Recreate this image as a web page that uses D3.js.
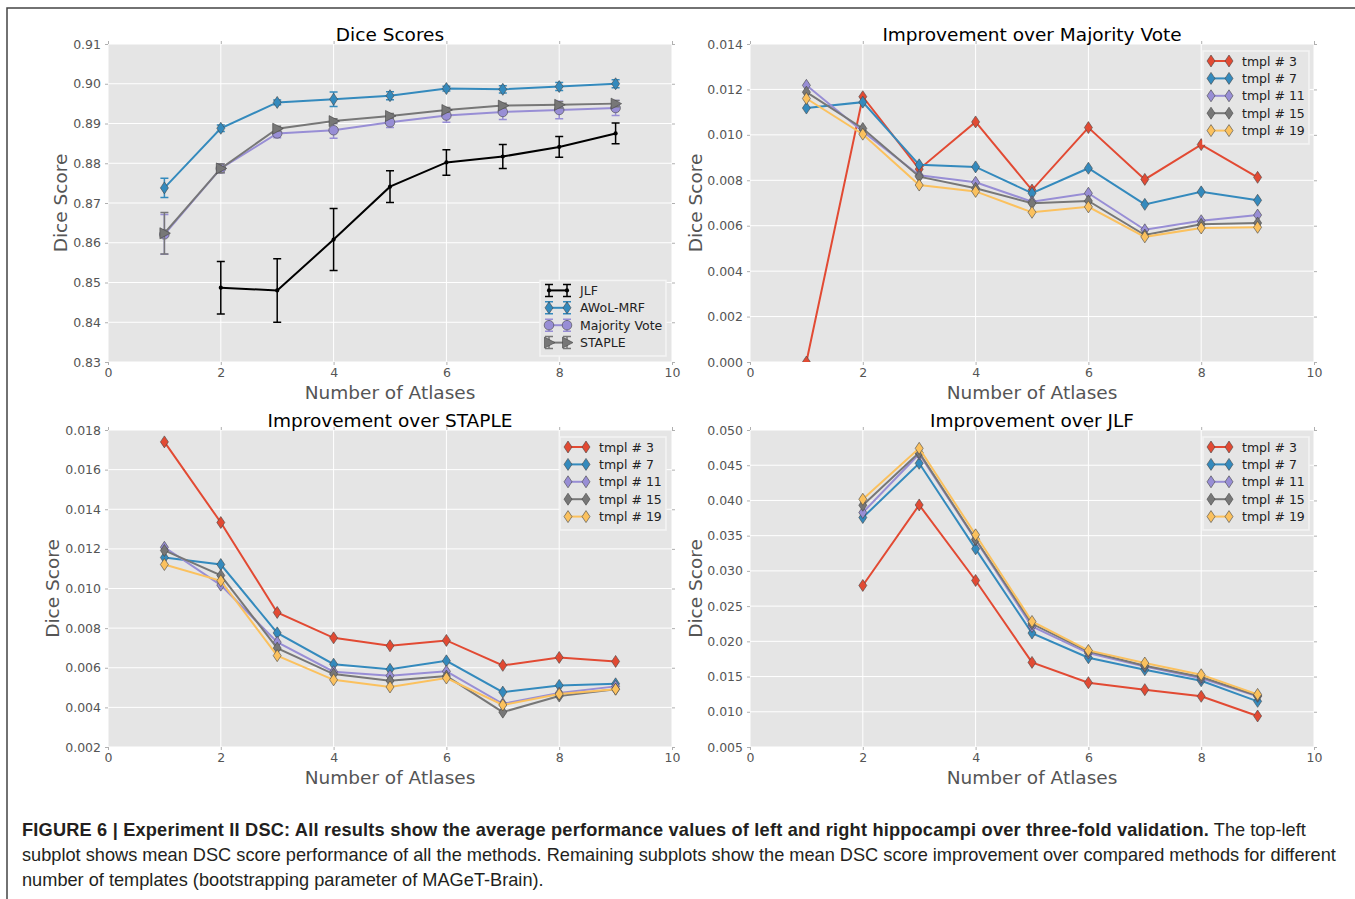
<!DOCTYPE html>
<html lang="en">
<head>
<meta charset="UTF-8">
<title>Experiment II DSC</title>
<script src="https://cdn.jsdelivr.net/npm/d3@7"></script>
<style>
	body { margin: 0; background: #fff; }
	svg text { font-family: 'DejaVu Sans', sans-serif; }
	.caption text { font-family: 'Liberation Sans', Arial, sans-serif; }
</style>
</head>
<body>
<script>
// x values
var atlases = [1, 2, 3, 4, 5, 6, 7, 8, 9];
var jlfAtlases = [2, 3, 4, 5, 6, 7, 8, 9];
var xTicks = [0, 2, 4, 6, 8, 10];

// Dice Scores (mean and error)
var jlfMean = [0.8487, 0.8480, 0.8608, 0.8741, 0.8802, 0.8817, 0.8841, 0.8875];
var jlfErr = [0.0066, 0.0080, 0.0078, 0.0040, 0.0032, 0.0030, 0.0026, 0.0026];
var awolMean = [0.8738, 0.8888, 0.8953, 0.8961, 0.8970, 0.8988, 0.8986, 0.8993, 0.9000];
var awolErr = [0.0024, 0.0008, 0.0006, 0.0018, 0.0010, 0.0006, 0.0009, 0.0010, 0.0010];
var mvMean = [0.8621, 0.8787, 0.8875, 0.8883, 0.8903, 0.8920, 0.8929, 0.8934, 0.8939];
var mvErr = [0.0050, 0.0011, 0.0011, 0.0020, 0.0013, 0.0017, 0.0019, 0.0022, 0.0019];
var stapleMean = [0.8624, 0.8787, 0.8887, 0.8906, 0.8919, 0.8934, 0.8945, 0.8947, 0.8950];
var stapleErr = [0.0052, 0.0011, 0.0006, 0.0006, 0.0006, 0.0006, 0.0006, 0.0008, 0.0008];
var diceTicks = [0.83, 0.84, 0.85, 0.86, 0.87, 0.88, 0.89, 0.90, 0.91];

var tmplNames = ['tmpl # 3', 'tmpl # 7', 'tmpl # 11', 'tmpl # 15', 'tmpl # 19'];

// improvement over majority vote
var overMv3 = [0.0000, 0.01168, 0.00849, 0.01057, 0.00757, 0.01032, 0.00804, 0.00957, 0.00813];
var overMv7 = [0.01118, 0.01144, 0.00868, 0.00859, 0.00743, 0.00853, 0.00694, 0.00749, 0.00712];
var overMv11 = [0.01218, 0.01015, 0.00822, 0.00791, 0.00706, 0.00743, 0.00582, 0.00622, 0.00647];
var overMv15 = [0.01188, 0.01028, 0.00816, 0.00765, 0.00699, 0.00709, 0.00559, 0.00606, 0.00612];
var overMv19 = [0.01160, 0.01003, 0.00779, 0.00751, 0.00659, 0.00683, 0.00551, 0.00590, 0.00593];
var mvTicks = [0.000, 0.002, 0.004, 0.006, 0.008, 0.010, 0.012, 0.014];

// improvement over STAPLE
var overSt3 = [0.01740, 0.01333, 0.00879, 0.00751, 0.00711, 0.00738, 0.00612, 0.00652, 0.00632];
var overSt7 = [0.01156, 0.01121, 0.00776, 0.00618, 0.00592, 0.00635, 0.00477, 0.00511, 0.00519];
var overSt11 = [0.01208, 0.01017, 0.00729, 0.00580, 0.00560, 0.00582, 0.00418, 0.00472, 0.00506];
var overSt15 = [0.01192, 0.01066, 0.00699, 0.00568, 0.00534, 0.00558, 0.00376, 0.00457, 0.00492];
var overSt19 = [0.01121, 0.01039, 0.00661, 0.00539, 0.00503, 0.00548, 0.00412, 0.00467, 0.00492];
var stTicks = [0.002, 0.004, 0.006, 0.008, 0.010, 0.012, 0.014, 0.016, 0.018];

// improvement over JLF (starts at 2 atlases)
var overJlf3 = [0.02793, 0.03936, 0.02864, 0.01701, 0.01413, 0.01314, 0.01219, 0.00940];
var overJlf7 = [0.03757, 0.04527, 0.03313, 0.02117, 0.01767, 0.01597, 0.01441, 0.01148];
var overJlf11 = [0.03828, 0.04660, 0.03440, 0.02211, 0.01833, 0.01644, 0.01474, 0.01219];
var overJlf15 = [0.03932, 0.04679, 0.03450, 0.02249, 0.01857, 0.01654, 0.01493, 0.01228];
var overJlf19 = [0.04017, 0.04740, 0.03512, 0.02282, 0.01871, 0.01692, 0.01526, 0.01247];
var jlfTicks = [0.005, 0.010, 0.015, 0.020, 0.025, 0.030, 0.035, 0.040, 0.045, 0.050];

var colors = ['#E24A33', '#348ABD', '#988ED5', '#777777', '#FBC15E'];

var svg = d3.select('body').append('svg')
	.attr('width', 1355)
	.attr('height', 899);

// outer frame
svg.append('path')
	.attr('d', 'M7,899V8H1355')
	.attr('fill', 'none')
	.attr('stroke', '#444')
	.attr('stroke-width', 1.5);

function markerPath(type) {
	if (type === 'd') return 'M0,-6L4,0L0,6L-4,0Z';
	if (type === '>') return 'M-4.5,-5.5L6,0L-4.5,5.5Z';
	if (type === 'o') return d3.symbol().type(d3.symbolCircle).size(72)();
	return d3.symbol().type(d3.symbolCircle).size(14)();
}

function tmplSeries(xs, arrays) {
	return arrays.map(function (vals, i) {
		return {name: tmplNames[i], xs: xs, ys: vals, color: colors[i], marker: 'd'};
	});
}

var panels = [
	{
		id: 'p1', left: 108, right: 672, top: 44, bottom: 362,
		title: 'Dice Scores', yDomain: [0.83, 0.91], yTicks: diceTicks, fmt: '.2f', ylabelGap: 41,
		legend: {right: 666, bottom: 356, width: 126, hx: 9, tx: 40},
		series: [
			{name: 'JLF', xs: jlfAtlases, ys: jlfMean, err: jlfErr, color: '#000', marker: '.'},
			{name: 'AWoL-MRF', xs: atlases, ys: awolMean, err: awolErr, color: '#348ABD', marker: 'd'},
			{name: 'Majority Vote', xs: atlases, ys: mvMean, err: mvErr, color: '#988ED5', marker: 'o'},
			{name: 'STAPLE', xs: atlases, ys: stapleMean, err: stapleErr, color: '#777777', marker: '>'}
		]
	},
	{
		id: 'p2', left: 750, right: 1314, top: 44, bottom: 362,
		title: 'Improvement over Majority Vote', yDomain: [0, 0.014], yTicks: mvTicks, fmt: '.3f', ylabelGap: 48,
		legend: {right: 1309, top: 51, width: 106, hx: 8, tx: 39},
		series: tmplSeries(atlases, [overMv3, overMv7, overMv11, overMv15, overMv19])
	},
	{
		id: 'p3', left: 108, right: 672, top: 430, bottom: 747,
		title: 'Improvement over STAPLE', yDomain: [0.002, 0.018], yTicks: stTicks, fmt: '.3f', ylabelGap: 49,
		legend: {right: 666, top: 437, width: 106, hx: 8, tx: 39},
		series: tmplSeries(atlases, [overSt3, overSt7, overSt11, overSt15, overSt19])
	},
	{
		id: 'p4', left: 750, right: 1314, top: 430, bottom: 747,
		title: 'Improvement over JLF', yDomain: [0.005, 0.050], yTicks: jlfTicks, fmt: '.3f', ylabelGap: 48,
		legend: {right: 1309, top: 437, width: 106, hx: 8, tx: 39},
		series: tmplSeries(jlfAtlases, [overJlf3, overJlf7, overJlf11, overJlf15, overJlf19])
	}
];

panels.forEach(function (p) {
	var x = d3.scaleLinear().domain([0, 10]).range([p.left, p.right]);
	var y = d3.scaleLinear().domain(p.yDomain).range([p.bottom, p.top]);
	var g = svg.append('g');

	g.append('clipPath').attr('id', 'clip-' + p.id)
		.append('rect')
		.attr('x', p.left).attr('y', p.top)
		.attr('width', p.right - p.left).attr('height', p.bottom - p.top);

	g.append('rect')
		.attr('x', p.left).attr('y', p.top)
		.attr('width', p.right - p.left).attr('height', p.bottom - p.top)
		.attr('fill', '#e5e5e5');

	// grid
	g.selectAll('.hgrid').data(p.yTicks).enter().append('line')
		.attr('x1', p.left).attr('x2', p.right)
		.attr('y1', function (d) { return y(d); }).attr('y2', function (d) { return y(d); })
		.attr('stroke', '#fff').attr('stroke-width', 1);
	g.selectAll('.vgrid').data(xTicks).enter().append('line')
		.attr('y1', p.top).attr('y2', p.bottom)
		.attr('x1', function (d) { return x(d); }).attr('x2', function (d) { return x(d); })
		.attr('stroke', '#fff').attr('stroke-width', 1);

	// axes
	function styleAxis(a) {
		a.select('.domain').remove();
		a.selectAll('.tick line').attr('stroke', '#b0b0b0');
		a.selectAll('.tick text')
			.attr('fill', '#555')
			.style('font-family', "'DejaVu Sans', sans-serif")
			.style('font-size', '12.5px');
	}
	g.append('g').attr('transform', 'translate(' + p.left + ',0)')
		.call(d3.axisLeft(y).tickValues(p.yTicks).tickFormat(d3.format(p.fmt)).tickSize(3).tickPadding(4))
		.call(styleAxis);
	g.append('g').attr('transform', 'translate(' + p.right + ',0)')
		.call(d3.axisRight(y).tickValues(p.yTicks).tickFormat('').tickSize(3))
		.call(styleAxis);
	g.append('g').attr('transform', 'translate(0,' + p.bottom + ')')
		.call(d3.axisBottom(x).tickValues(xTicks).tickFormat(d3.format('d')).tickSize(3).tickPadding(3))
		.call(styleAxis);
	g.append('g').attr('transform', 'translate(0,' + p.top + ')')
		.call(d3.axisTop(x).tickValues(xTicks).tickFormat('').tickSize(3))
		.call(styleAxis);

	// series
	var plot = g.append('g').attr('clip-path', 'url(#clip-' + p.id + ')');
	var line = d3.line();
	p.series.forEach(function (s) {
		var pts = s.xs.map(function (xv, i) { return [x(xv), y(s.ys[i])]; });
		var sg = plot.append('g');
		if (s.err) {
			s.xs.forEach(function (xv, i) {
				var cx = x(xv), y0 = y(s.ys[i] - s.err[i]), y1 = y(s.ys[i] + s.err[i]);
				sg.append('path')
					.attr('d', 'M' + cx + ',' + y0 + 'V' + y1 + 'M' + (cx - 4) + ',' + y0 + 'H' + (cx + 4) + 'M' + (cx - 4) + ',' + y1 + 'H' + (cx + 4))
					.attr('fill', 'none').attr('stroke', s.color).attr('stroke-width', 1.5);
			});
		}
		sg.append('path').attr('d', line(pts))
			.attr('fill', 'none').attr('stroke', s.color).attr('stroke-width', 2);
		sg.selectAll('.m').data(pts).enter().append('path')
			.attr('d', markerPath(s.marker))
			.attr('transform', function (d) { return 'translate(' + d[0] + ',' + d[1] + ')'; })
			.attr('fill', s.color)
			.attr('stroke', s.marker === '.' ? 'none' : '#444')
			.attr('stroke-width', 0.6);
	});

	// legend
	var L = p.legend, rowH = 17.4, n = p.series.length;
	var lh = n * rowH + 6;
	var lTop = L.top !== undefined ? L.top : L.bottom - lh;
	var lLeft = L.right - L.width;
	var lg = g.append('g');
	lg.append('rect')
		.attr('x', lLeft).attr('y', lTop).attr('width', L.width).attr('height', lh)
		.attr('fill', '#e5e5e5').attr('stroke', '#f4f4f4').attr('stroke-width', 1.5);
	p.series.forEach(function (s, i) {
		var cy = lTop + 10 + i * rowH;
		var hx1 = lLeft + L.hx, hx2 = hx1 + 18;
		if (s.err) {
			[hx1, hx2].forEach(function (hx) {
				lg.append('path')
					.attr('d', 'M' + hx + ',' + (cy - 6) + 'V' + (cy + 6) + 'M' + (hx - 4) + ',' + (cy - 6) + 'H' + (hx + 4) + 'M' + (hx - 4) + ',' + (cy + 6) + 'H' + (hx + 4))
					.attr('fill', 'none').attr('stroke', s.color).attr('stroke-width', 1.5);
			});
		}
		lg.append('line').attr('x1', hx1).attr('x2', hx2).attr('y1', cy).attr('y2', cy)
			.attr('stroke', s.color).attr('stroke-width', 2);
		[hx1, hx2].forEach(function (hx) {
			lg.append('path').attr('d', markerPath(s.marker))
				.attr('transform', 'translate(' + hx + ',' + cy + ')')
				.attr('fill', s.color)
				.attr('stroke', s.marker === '.' ? 'none' : '#444')
				.attr('stroke-width', 0.6);
		});
		lg.append('text').attr('x', lLeft + L.tx).attr('y', cy + 4.5)
			.attr('fill', '#222').style('font-size', '12.5px')
			.text(s.name);
	});

	// labels
	var cx = (p.left + p.right) / 2;
	g.append('text').attr('x', cx).attr('y', p.top - 3)
		.attr('text-anchor', 'middle').attr('fill', '#000')
		.style('font-size', '18.5px').text(p.title);
	g.append('text').attr('x', cx).attr('y', p.bottom + 37)
		.attr('text-anchor', 'middle').attr('fill', '#555')
		.style('font-size', '18.5px').text('Number of Atlases');
	g.append('text')
		.attr('transform', 'translate(' + (p.left - p.ylabelGap) + ',' + ((p.top + p.bottom) / 2) + ') rotate(-90)')
		.attr('text-anchor', 'middle').attr('fill', '#555')
		.style('font-size', '18.5px').text('Dice Score');
});

// caption
var captionLines = [
	[{t: 'FIGURE 6 | Experiment II DSC: All results show the average performance values of left and right hippocampi over three-fold validation.', b: true},
	 {t: ' The top-left', b: false}],
	[{t: 'subplot shows mean DSC score performance of all the methods. Remaining subplots show the mean DSC score improvement over compared methods for different', b: false}],
	[{t: 'number of templates (bootstrapping parameter of MAGeT-Brain).', b: false}]
];
var cap = svg.append('g').attr('class', 'caption');
captionLines.forEach(function (parts, i) {
	var t = cap.append('text').attr('x', 22).attr('y', 836 + i * 25)
		.attr('fill', '#231f20').style('font-size', '18.2px');
	parts.forEach(function (part) {
		t.append('tspan')
			.attr('font-weight', part.b ? 'bold' : 'normal')
			.attr('letter-spacing', part.b ? '0.19px' : null)
			.text(part.t);
	});
});
</script>
</body>
</html>
